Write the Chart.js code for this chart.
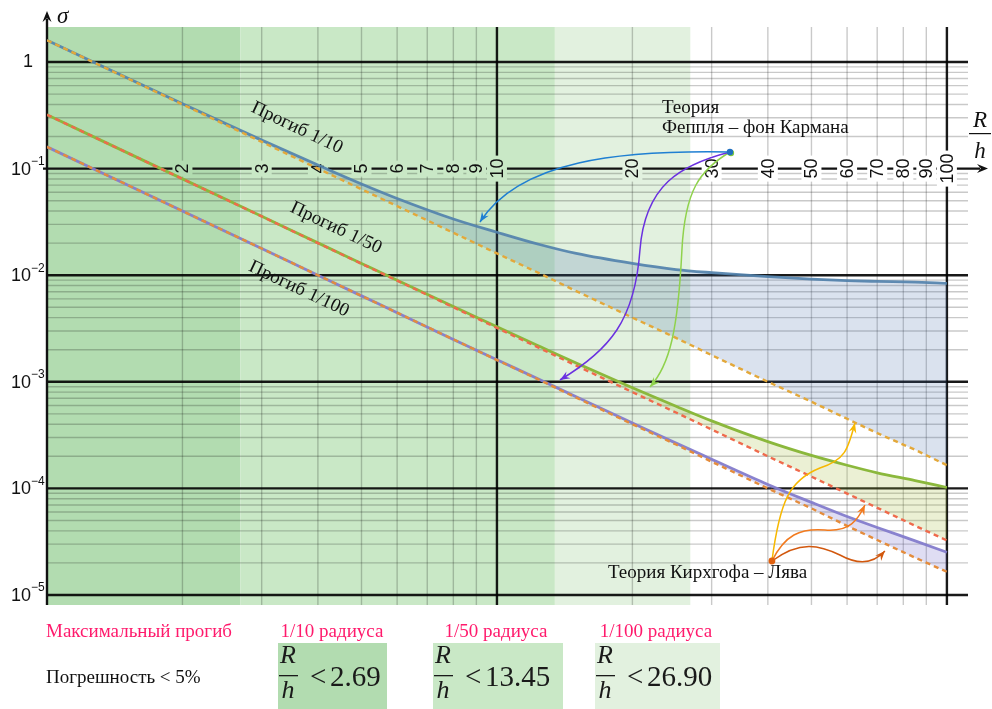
<!DOCTYPE html>
<html>
<head>
<meta charset="utf-8">
<script src="https://cdn.jsdelivr.net/npm/chart.js@4.4.1/dist/chart.umd.min.js"></script>
<style>
  html, body { margin: 0; padding: 0; background: #ffffff; }
  #wrap { width: 992px; height: 709px; position: relative; }
</style>
</head>
<body>
<div id="wrap"><canvas id="plate"></canvas></div>
<script>
// Relative thickness R/h at which the curves are sampled
const ratioRH = [1, 2, 3, 4, 5, 6, 8, 10, 12.5, 15, 20, 25, 30, 40, 50, 60, 70, 85, 100];

// Kirchhoff–Love (linear) theory, stress σ for max deflection 1/10, 1/50, 1/100 of radius
const kirchhoff10  = [1.6, 0.40, 0.178, 0.100, 0.064, 0.0445, 0.025, 0.016, 0.0103, 0.0071, 0.0040, 0.00258, 0.00178, 0.00100, 0.00065, 0.00045, 0.00033, 0.00023, 0.000165];
const kirchhoff50  = [0.32, 0.080, 0.0356, 0.020, 0.0128, 0.0089, 0.0050, 0.0032, 0.00205, 0.00142, 0.00080, 0.000515, 0.000357, 0.00020, 0.000129, 0.0000895, 0.0000658, 0.0000446, 0.0000325];
const kirchhoff100 = [0.16, 0.040, 0.0178, 0.010, 0.0064, 0.00445, 0.0025, 0.0016, 0.00103, 0.00071, 0.00040, 0.000258, 0.000178, 0.00010, 0.000065, 0.0000445, 0.0000328, 0.0000224, 0.0000165];

// Föppl – von Kármán (nonlinear) theory, same deflections
const karman10  = [1.6, 0.405, 0.185, 0.108, 0.0718, 0.0525, 0.0337, 0.0253, 0.0193, 0.0160, 0.0129, 0.0113, 0.01056, 0.0097, 0.0092, 0.0089, 0.00875, 0.0086, 0.0084];
const karman50  = [0.32, 0.0801, 0.0357, 0.0201, 0.0129, 0.00898, 0.00508, 0.00328, 0.00213, 0.00150, 0.00088, 0.00059, 0.00043, 0.000275, 0.000204, 0.000165, 0.000140, 0.0001185, 0.000102];
const karman100 = [0.16, 0.040, 0.0178, 0.010, 0.0064, 0.00445, 0.0025, 0.00161, 0.00104, 0.000723, 0.000411, 0.000266, 0.000188, 0.000109, 0.0000740, 0.0000545, 0.0000430, 0.0000322, 0.0000252];

// Limits of R/h for which the error stays below 5 %
const limitRH = [2.69, 13.45, 26.90];
const limitText = ['2.69', '13.45', '26.90'];
const deflectionLabels = ['1/10 радиуса', '1/50 радиуса', '1/100 радиуса'];
const curveLabels = ['Прогиб 1/10', 'Прогиб 1/50', 'Прогиб 1/100'];

// Tick labels
const xTickValues = [2, 3, 4, 5, 6, 7, 8, 9, 10, 20, 30, 40, 50, 60, 70, 80, 90, 100];
const yTickValues = [1, 0.1, 0.01, 0.001, 0.0001, 0.00001];
const yTickExponents = [0, -1, -2, -3, -4, -5];

const bandColors = ['#b2dcb0', '#c9e8c6', '#e2f1df'];
const SERIF = '"Liberation Serif", "Times New Roman", serif';
const SANS = '"Liberation Sans", Arial, sans-serif';

function pts(arr) { return ratioRH.map((r, i) => ({ x: r, y: arr[i] })); }

function bandColorAt(v) {
  for (let i = 0; i < limitRH.length; i++) if (v < limitRH[i]) return bandColors[i];
  return '#ffffff';
}

// point given as (log10 R/h, log10 σ)
function P(chart, u, v) {
  return [chart.scales.x.getPixelForValue(Math.pow(10, u)), chart.scales.y.getPixelForValue(Math.pow(10, v))];
}

function line(ctx, x1, y1, x2, y2) {
  ctx.beginPath(); ctx.moveTo(x1, y1); ctx.lineTo(x2, y2); ctx.stroke();
}

function head(ctx, tip, from, color, L, W) {
  const a = Math.atan2(tip[1] - from[1], tip[0] - from[0]);
  const c = Math.cos(a), s = Math.sin(a);
  ctx.fillStyle = color;
  ctx.beginPath();
  ctx.moveTo(tip[0], tip[1]);
  ctx.lineTo(tip[0] - L * c - W * s, tip[1] - L * s + W * c);
  ctx.lineTo(tip[0] - 0.65 * L * c, tip[1] - 0.65 * L * s);
  ctx.lineTo(tip[0] - L * c + W * s, tip[1] - L * s - W * c);
  ctx.closePath();
  ctx.fill();
}

function curvedArrow(chart, logPts, color) {
  const ctx = chart.ctx;
  const p = logPts.map(q => P(chart, q[0], q[1]));
  ctx.save();
  ctx.strokeStyle = color; ctx.lineWidth = 1.5; ctx.setLineDash([]);
  ctx.beginPath(); ctx.moveTo(p[0][0], p[0][1]);
  for (let i = 1; i + 2 < p.length; i += 3) {
    ctx.bezierCurveTo(p[i][0], p[i][1], p[i + 1][0], p[i + 1][1], p[i + 2][0], p[i + 2][1]);
  }
  ctx.stroke();
  head(ctx, p[p.length - 1], p[p.length - 2], color, 10, 4);
  ctx.restore();
}

// green zones under the plot
const bandsPlugin = {
  id: 'bands',
  beforeDatasetsDraw(chart) {
    const { ctx, chartArea: a, scales: { x } } = chart;
    ctx.save();
    let prev = x.getPixelForValue(1);
    for (let i = 0; i < limitRH.length; i++) {
      const xr = x.getPixelForValue(limitRH[i]);
      ctx.fillStyle = bandColors[i];
      ctx.fillRect(prev, a.top, xr - prev, a.bottom - a.top);
      prev = xr;
    }
    ctx.restore();
  }
};

// log grid, axes, tick labels
const gridPlugin = {
  id: 'logGrid',
  beforeDatasetsDraw(chart) {
    const { ctx, chartArea: a, scales: { x, y } } = chart;
    ctx.save();
    ctx.setLineDash([]);
    const xl = x.getPixelForValue(1);
    // minor lines
    ctx.strokeStyle = 'rgba(0,0,0,0.21)';
    ctx.lineWidth = 1.4;
    for (let d = 0; d < 2; d++) {
      for (let m = 2; m <= 9; m++) {
        const px = x.getPixelForValue(m * Math.pow(10, d));
        line(ctx, px, a.top, px, a.bottom);
      }
    }
    for (let d = -5; d < 0; d++) {
      for (let m = 2; m <= 9; m++) {
        const py = y.getPixelForValue(m * Math.pow(10, d));
        line(ctx, xl, py, a.right, py);
      }
    }
    // major lines
    ctx.strokeStyle = 'rgba(0,0,0,0.9)';
    ctx.lineWidth = 2.4;
    [10, 100].forEach(v => { const px = x.getPixelForValue(v); line(ctx, px, a.top, px, a.bottom); });
    yTickValues.forEach(v => { if (v !== 0.1) { const py = y.getPixelForValue(v); line(ctx, xl, py, a.right, py); } });

    // horizontal R/h axis at σ = 0.1
    const ay = y.getPixelForValue(0.1);
    ctx.strokeStyle = '#111';
    line(ctx, xl - 4, ay, a.right + 12, ay);
    head(ctx, [a.right + 20, ay], [a.right, ay], '#111', 11, 4.5);
    ctx.font = '18px ' + SANS;
    xTickValues.forEach(v => {
      const px = x.getPixelForValue(v);
      const t = String(v);
      const w = ctx.measureText(t).width;
      ctx.fillStyle = bandColorAt(v);
      ctx.fillRect(px - 10, ay - w / 2 - 3, 20, w + 6);
      ctx.save();
      ctx.translate(px + 1, ay);
      ctx.rotate(-Math.PI / 2);
      ctx.fillStyle = '#111';
      ctx.textAlign = 'center';
      ctx.textBaseline = 'middle';
      ctx.fillText(t, 0, 0);
      ctx.restore();
    });
    // R/h caption
    const cx = a.right + 12, cy = ay - 35;
    ctx.fillStyle = '#111';
    ctx.font = 'italic 23px ' + SERIF;
    ctx.textAlign = 'center';
    ctx.textBaseline = 'alphabetic';
    ctx.fillText('R', cx, cy - 7);
    ctx.fillText('h', cx, cy + 24);
    ctx.lineWidth = 1.2;
    line(ctx, cx - 11, cy, cx + 11, cy);

    // vertical σ axis
    ctx.strokeStyle = '#111';
    ctx.lineWidth = 2.4;
    line(ctx, xl, a.bottom, xl, a.top - 8);
    head(ctx, [xl, a.top - 16], [xl, a.top], '#111', 11, 4.5);
    ctx.fillStyle = '#111';
    ctx.font = 'italic 23px ' + SERIF;
    ctx.textAlign = 'left';
    ctx.fillText('σ', xl + 10, a.top - 4);

    // σ tick labels
    ctx.textBaseline = 'middle';
    yTickValues.forEach((v, i) => {
      const py = y.getPixelForValue(v);
      const e = yTickExponents[i];
      ctx.fillStyle = '#111';
      if (e === 0) {
        ctx.font = '18px ' + SANS;
        ctx.textAlign = 'center';
        ctx.fillText('1', xl - 19, py);
      } else {
        ctx.font = '18px ' + SANS;
        ctx.textAlign = 'right';
        ctx.fillText('10', xl - 16, py + 1);
        ctx.font = '12px ' + SANS;
        ctx.textAlign = 'left';
        ctx.fillText('−' + Math.abs(e), xl - 16, py - 7);
      }
    });
    ctx.restore();
  }
};

// labels along the curves, theory captions and arrows
const notesPlugin = {
  id: 'notes',
  afterDatasetsDraw(chart) {
    const { ctx, scales: { x, y } } = chart;
    ctx.save();
    // slope of the Kirchhoff lines (σ ~ (R/h)^-2)
    const ang = Math.atan2(y.getPixelForValue(0.01) - y.getPixelForValue(1), x.getPixelForValue(10) - x.getPixelForValue(1));
    const labelPos = [[0.5556, -0.6191], [0.6422, -1.5572], [0.56, -2.1295]];
    ctx.font = '19px ' + SERIF;
    ctx.fillStyle = '#111';
    ctx.textAlign = 'center';
    ctx.textBaseline = 'middle';
    curveLabels.forEach((t, i) => {
      const p = P(chart, labelPos[i][0], labelPos[i][1]);
      ctx.save();
      ctx.translate(p[0], p[1]);
      ctx.rotate(ang);
      ctx.fillText(t, 0, 0);
      ctx.restore();
    });

    // Föppl – von Kármán caption and arrows
    ctx.textAlign = 'left';
    let p = P(chart, 1.3667, -0.4315);
    ctx.fillText('Теория', p[0], p[1]);
    p = P(chart, 1.3667, -0.6191);
    ctx.fillText('Феппля – фон Кармана', p[0], p[1]);

    const src = [1.5178, -0.8443];
    curvedArrow(chart, [src, [1.4511, -1.0131], [1.4178, -1.2008], [1.4111, -1.7636], [1.4022, -2.5141], [1.3844, -2.8424], [1.34, -3.0488]], '#8fd24c');
    curvedArrow(chart, [src, [1.4067, -0.9662], [1.3289, -1.1538], [1.3178, -1.7636], [1.3067, -2.4203], [1.2511, -2.7017], [1.14, -2.9831]], '#6a30e0');
    curvedArrow(chart, [src, [1.2733, -0.8255], [1.0511, -0.9193], [0.9622, -1.5009]], '#1f7fd2');
    p = P(chart, src[0], src[1]);
    ctx.fillStyle = '#7cc840';
    ctx.beginPath(); ctx.arc(p[0] + 1, p[1] + 1, 3.2, 0, Math.PI * 2); ctx.fill();
    ctx.fillStyle = '#1f6fc0';
    ctx.beginPath(); ctx.arc(p[0], p[1], 3.2, 0, Math.PI * 2); ctx.fill();

    // Kirchhoff – Love caption and arrows
    const ks = [1.6111, -4.681];
    curvedArrow(chart, [ks, [1.6289, -4.1088], [1.6511, -3.9212], [1.7178, -3.8086], [1.7733, -3.7336], [1.78, -3.6398], [1.7956, -3.3865]], '#f7b800');
    curvedArrow(chart, [ks, [1.64, -4.4371], [1.6733, -4.3715], [1.7289, -4.3902], [1.7844, -4.409], [1.8022, -4.2964], [1.8178, -4.1557]], '#f27a1e');
    curvedArrow(chart, [ks, [1.6733, -4.4841], [1.7178, -4.531], [1.7622, -4.6248], [1.8067, -4.728], [1.84, -4.6904], [1.8622, -4.5872]], '#d2580e');
    p = P(chart, ks[0], ks[1]);
    ctx.fillStyle = '#e0600e';
    ctx.beginPath(); ctx.arc(p[0], p[1], 3.4, 0, Math.PI * 2); ctx.fill();
    ctx.fillStyle = '#111';
    ctx.font = '19px ' + SERIF;
    ctx.textAlign = 'left';
    ctx.textBaseline = 'middle';
    p = P(chart, 1.2467, -4.7936);
    ctx.fillText('Теория Кирхгофа – Лява', p[0], p[1]);
    ctx.restore();
  },

  // table under the plot
  afterDraw(chart) {
    const ctx = chart.ctx;
    ctx.save();
    ctx.textBaseline = 'middle';
    ctx.font = '19px ' + SERIF;
    ctx.fillStyle = '#ff1a6c';
    ctx.textAlign = 'left';
    ctx.fillText('Максимальный прогиб', 46, 632);
    const headX = [332, 496, 656];
    ctx.textAlign = 'center';
    deflectionLabels.forEach((t, i) => ctx.fillText(t, headX[i], 632));
    ctx.fillStyle = '#111';
    ctx.textAlign = 'left';
    ctx.fillText('Погрешность < 5%', 46, 678);

    const boxes = [[278, 109], [433, 130], [595, 125]];
    boxes.forEach((b, i) => {
      const left = b[0];
      ctx.fillStyle = bandColors[i];
      ctx.fillRect(left, 643, b[1], 66);
      ctx.fillStyle = '#1a1a1a';
      ctx.font = 'italic 26px ' + SERIF;
      ctx.textAlign = 'center';
      ctx.textBaseline = 'alphabetic';
      ctx.fillText('R', left + 10, 663);
      ctx.fillText('h', left + 10, 698);
      ctx.fillRect(left + 1, 675, 19, 1.3);
      ctx.font = '29px ' + SERIF;
      ctx.textAlign = 'left';
      ctx.textBaseline = 'middle';
      ctx.fillText('<', left + 32, 678);
      ctx.fillText(limitText[i], left + 52, 678);
    });
    ctx.restore();
  }
};

const ctx = document.getElementById('plate').getContext('2d');
const dashed = { borderWidth: 2.4, borderDash: [5, 4], fill: false, pointRadius: 0, tension: 0, order: 0 };
const solid = { borderWidth: 2.8, pointRadius: 0, cubicInterpolationMode: 'monotone', order: 1 };

new Chart(ctx, {
  type: 'line',
  data: {
    datasets: [
      Object.assign({ label: 'Кирхгоф 1/10', data: pts(kirchhoff10), borderColor: '#e3a83a' }, dashed),
      Object.assign({ label: 'Кирхгоф 1/50', data: pts(kirchhoff50), borderColor: '#ef6a4c' }, dashed),
      Object.assign({ label: 'Кирхгоф 1/100', data: pts(kirchhoff100), borderColor: '#e48c3c' }, dashed),
      Object.assign({ label: 'Карман 1/10', data: pts(karman10), borderColor: 'rgba(82,130,172,0.92)', backgroundColor: 'rgba(70,110,170,0.2)', fill: 0 }, solid),
      Object.assign({ label: 'Карман 1/50', data: pts(karman50), borderColor: '#8bb83c', backgroundColor: 'rgba(165,185,60,0.22)', fill: 1 }, solid),
      Object.assign({ label: 'Карман 1/100', data: pts(karman100), borderColor: 'rgba(132,124,204,0.95)', backgroundColor: 'rgba(110,100,200,0.22)', fill: 2 }, solid)
    ]
  },
  options: {
    responsive: true,
    maintainAspectRatio: false,
    animation: false,
    layout: { padding: { left: 47, right: 24, top: 27, bottom: 104 } },
    scales: {
      x: { type: 'logarithmic', min: 1, max: 111.4, display: false },
      y: { type: 'logarithmic', min: 8.06e-6, max: 2.13, display: false }
    },
    plugins: {
      legend: { display: false },
      tooltip: { enabled: false },
      filler: { propagate: false }
    }
  },
  plugins: [bandsPlugin, gridPlugin, notesPlugin]
});
</script>
</body>
</html>
